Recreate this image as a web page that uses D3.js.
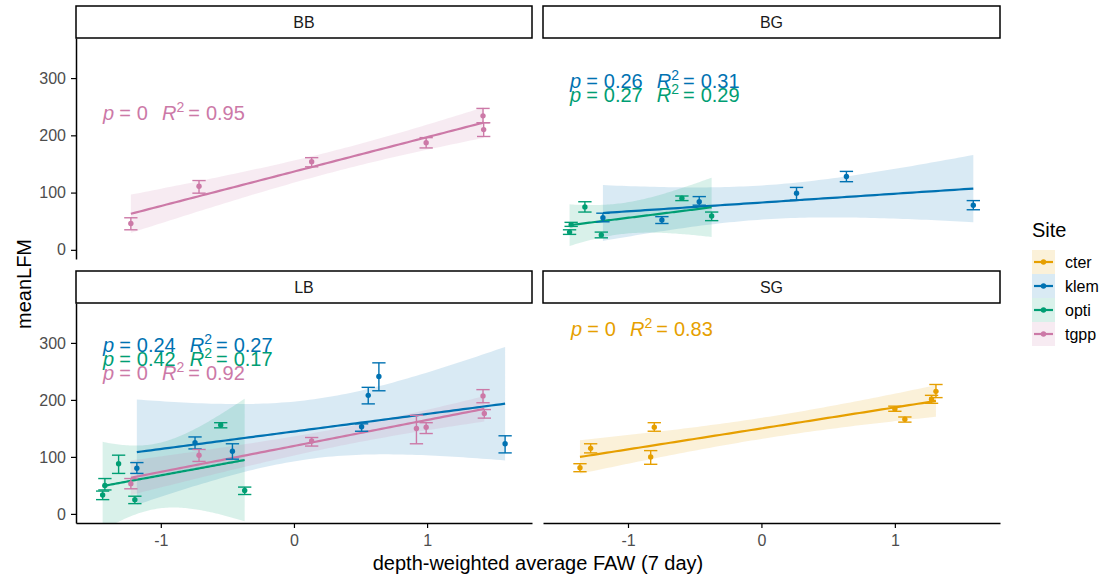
<!DOCTYPE html>
<html>
<head>
<meta charset="utf-8">
<script src="https://cdn.jsdelivr.net/npm/d3@7"></script>
<style>
  body { margin: 0; background: #fff; }
  text { font-family: "Liberation Sans", Arial, sans-serif; }
</style>
</head>
<body>
<div id="chart"></div>
<script>
// sites and their colours (legend order)
const sites = ["cter", "klem", "opti", "tgpp"];
const siteColors = ["#E69F00", "#0072B2", "#009E73", "#CC79A7"];

// rows: [FAW, meanLFM, lower, upper]
const bb_tgpp = [[-1.225, 46, 35, 56], [-0.713, 111, 99, 121], [0.133, 154, 145, 161],
  [0.993, 187, 178, 196], [1.42, 234, 222, 247], [1.425, 210, 198, 222]];

const bg_klem = [[-1.188, 56, 49, 64], [-0.746, 52, 46, 58], [-0.466, 84, 78, 93],
  [0.263, 99, 87, 109], [0.637, 128, 119, 137], [1.588, 78, 70, 86]];
const bg_opti = [[-1.438, 31, 27, 35], [-1.426, 44, 41, 48], [-1.323, 75, 66, 84],
  [-1.2, 26, 21, 31], [-0.596, 90, 86, 94], [-0.373, 59, 51, 66]];

const lb_klem = [[-1.18, 80, 71, 90], [-0.743, 125, 114, 135], [-0.462, 110, 96, 123],
  [0.508, 153, 145, 158], [0.558, 208, 193, 222], [0.638, 241, 216, 265], [1.586, 123, 107, 137]];
const lb_opti = [[-1.437, 33, 25, 40], [-1.42, 50, 42, 62], [-1.317, 88, 71, 103],
  [-1.195, 25, 18, 31], [-0.55, 156, 151, 160], [-0.37, 41, 34, 47]];
const lb_tgpp = [[-1.225, 53, 44, 62], [-0.713, 103, 92, 113], [0.133, 128, 119, 134],
  [0.92, 150, 123, 173], [0.993, 152, 141, 160], [1.42, 207, 195, 218], [1.43, 176, 168, 183]];

const sg_cter = [[-1.36, 81, 74, 88], [-1.28, 115, 107, 123], [-0.83, 100, 87, 111],
  [-0.803, 152, 145, 160], [1.0, 184, 180, 189], [1.075, 166, 161, 170],
  [1.275, 201, 194, 208], [1.308, 215, 204, 227]];

// printed p and R2 per site
const bbStats = [["tgpp", "0", "0.95"]];
const bgStats = [["klem", "0.26", "0.31"], ["opti", "0.27", "0.29"]];
const lbStats = [["klem", "0.24", "0.27"], ["opti", "0.42", "0.17"], ["tgpp", "0", "0.92"]];
const sgStats = [["cter", "0", "0.83"]];

const xTicks = [-1, 0, 1];
const yTicks = [0, 100, 200, 300];

const xDomain = [-1.637, 1.788];
const yDomain = [-16, 370];

// 97.5% t quantiles by df
const tCrit = { 3: 3.182, 4: 2.776, 5: 2.571, 6: 2.447, 7: 2.365 };

const width = 1106;
const height = 584;

const color = d3.scaleOrdinal().domain(sites).range(siteColors);

const layout = [
  { name: "BB", x0: 76, x1: 532, top: 6, y1: 259, series: [["tgpp", bb_tgpp]], stats: bbStats,
    lx: 103, ly: 120, yAxis: true, xAxis: false },
  { name: "BG", x0: 543, x1: 1000, top: 6, y1: 259, series: [["klem", bg_klem], ["opti", bg_opti]], stats: bgStats,
    lx: 570, ly: 88, yAxis: false, xAxis: false },
  { name: "LB", x0: 76, x1: 532, top: 271, y1: 523,
    series: [["klem", lb_klem], ["opti", lb_opti], ["tgpp", lb_tgpp]], stats: lbStats,
    lx: 103, ly: 352, yAxis: true, xAxis: true },
  { name: "SG", x0: 543, x1: 1000, top: 271, y1: 523, series: [["cter", sg_cter]], stats: sgStats,
    lx: 571, ly: 336, yAxis: false, xAxis: true },
];

const lmBand = (pts) => {
  const n = pts.length;
  const mx = d3.mean(pts, (d) => d[0]);
  const my = d3.mean(pts, (d) => d[1]);
  const sxx = d3.sum(pts, (d) => (d[0] - mx) ** 2);
  const sxy = d3.sum(pts, (d) => (d[0] - mx) * (d[1] - my));
  const b = sxy / sxx;
  const a = my - b * mx;
  const sse = d3.sum(pts, (d) => (d[1] - a - b * d[0]) ** 2);
  const s = Math.sqrt(sse / (n - 2));
  const t = tCrit[n - 2];
  const ext = d3.extent(pts, (d) => d[0]);
  return d3.range(80).map((i) => {
    const x = ext[0] + ((ext[1] - ext[0]) * i) / 79;
    const fit = a + b * x;
    const se = s * Math.sqrt(1 / n + (x - mx) ** 2 / sxx);
    return { x: x, y: fit, lo: fit - t * se, hi: fit + t * se };
  });
};

// plotmath-like "p = .. R^2 = .." with its wide gaps
const eqLabel = (txt, pv, r2) => {
  txt.append("tspan").attr("font-style", "italic").text("p");
  txt.append("tspan").attr("dx", 5).text("=");
  txt.append("tspan").attr("dx", 6).text(pv);
  txt.append("tspan").attr("dx", 14).attr("font-style", "italic").text("R");
  txt.append("tspan").attr("font-size", 14).attr("dy", -8).text("2");
  txt.append("tspan").attr("dx", 4).attr("dy", 8).text("=");
  txt.append("tspan").attr("dx", 6).text(r2);
};

const svg = d3.select("#chart").append("svg").attr("width", width).attr("height", height);
svg.append("rect").attr("width", width).attr("height", height).attr("fill", "#fff");

layout.forEach((p, pi) => {
  const y0 = p.top + 32;
  const x = d3.scaleLinear().domain(xDomain).range([p.x0, p.x1]);
  const y = d3.scaleLinear().domain(yDomain).range([p.y1, y0]);
  const g = svg.append("g").attr("class", "panel");

  // strip
  g.append("rect")
    .attr("x", p.x0).attr("y", p.top)
    .attr("width", p.x1 - p.x0).attr("height", 32)
    .attr("fill", "#fff").attr("stroke", "#000").attr("stroke-width", 1.5);
  g.append("text")
    .attr("x", (p.x0 + p.x1) / 2).attr("y", p.top + 22)
    .attr("text-anchor", "middle").attr("font-size", 16).attr("fill", "#1a1a1a")
    .text(p.name);

  svg.append("clipPath").attr("id", "clip" + pi)
    .append("rect").attr("x", p.x0).attr("y", y0)
    .attr("width", p.x1 - p.x0).attr("height", p.y1 - y0);

  const plot = g.append("g").attr("clip-path", "url(#clip" + pi + ")");

  const bands = p.series.map(([site, pts]) => ({ site: site, pts: pts, band: lmBand(pts) }));

  plot.selectAll("path.ribbon").data(bands).enter()
    .append("path").attr("class", "ribbon")
    .attr("d", (d) => d3.area().x((v) => x(v.x)).y0((v) => y(v.lo)).y1((v) => y(v.hi))(d.band))
    .attr("fill", (d) => color(d.site)).attr("fill-opacity", 0.15);

  plot.selectAll("path.fit").data(bands).enter()
    .append("path").attr("class", "fit")
    .attr("d", (d) => d3.line().x((v) => x(v.x)).y((v) => y(v.y))(d.band))
    .attr("fill", "none").attr("stroke", (d) => color(d.site)).attr("stroke-width", 2.2);

  bands.forEach((s) => {
    const col = color(s.site);
    const eb = plot.append("g").attr("stroke", col).attr("stroke-width", 1.4);
    const cap = (x(0.05) - x(0));
    eb.selectAll("line.v").data(s.pts).enter().append("line")
      .attr("x1", (d) => x(d[0])).attr("x2", (d) => x(d[0]))
      .attr("y1", (d) => y(d[2])).attr("y2", (d) => y(d[3]));
    eb.selectAll("line.lo").data(s.pts).enter().append("line")
      .attr("x1", (d) => x(d[0]) - cap).attr("x2", (d) => x(d[0]) + cap)
      .attr("y1", (d) => y(d[2])).attr("y2", (d) => y(d[2]));
    eb.selectAll("line.hi").data(s.pts).enter().append("line")
      .attr("x1", (d) => x(d[0]) - cap).attr("x2", (d) => x(d[0]) + cap)
      .attr("y1", (d) => y(d[3])).attr("y2", (d) => y(d[3]));
    plot.append("g").selectAll("circle").data(s.pts).enter().append("circle")
      .attr("cx", (d) => x(d[0])).attr("cy", (d) => y(d[1]))
      .attr("r", 2.7).attr("fill", col);
  });

  // axes
  if (p.yAxis) {
    const ay = g.append("g").attr("transform", "translate(" + p.x0 + ",0)")
      .call(d3.axisLeft(y).tickValues(yTicks).tickSize(5).tickPadding(5).tickSizeOuter(0));
    ay.select(".domain").attr("stroke-width", 1.5);
    ay.selectAll(".tick line").attr("stroke-width", 1.2);
    ay.selectAll("text").attr("font-size", 16).attr("fill", "#4d4d4d")
      .attr("font-family", "Liberation Sans, Arial, sans-serif");
  }
  if (p.xAxis) {
    const ax = g.append("g").attr("transform", "translate(0," + p.y1 + ")")
      .call(d3.axisBottom(x).tickValues(xTicks).tickSize(5).tickPadding(7).tickSizeOuter(0)
        .tickFormat((d) => String(d)));
    ax.select(".domain").attr("stroke-width", 1.5);
    ax.selectAll(".tick line").attr("stroke-width", 1.2);
    ax.selectAll("text").attr("font-size", 16).attr("fill", "#4d4d4d")
      .attr("font-family", "Liberation Sans, Arial, sans-serif");
  }

  // p / R2 labels
  p.stats.forEach((st, i) => {
    const t = g.append("text")
      .attr("x", p.lx).attr("y", p.ly + i * 14)
      .attr("font-size", 20).attr("fill", color(st[0]));
    eqLabel(t, st[1], st[2]);
  });
});

// axis titles
svg.append("text")
  .attr("x", 538).attr("y", 570)
  .attr("text-anchor", "middle").attr("font-size", 20).attr("fill", "#000")
  .text("depth-weighted average FAW (7 day)");
svg.append("text")
  .attr("transform", "translate(31,284) rotate(-90)")
  .attr("text-anchor", "middle").attr("font-size", 20).attr("fill", "#000")
  .text("meanLFM");

// legend
const legend = svg.append("g").attr("transform", "translate(1032,0)");
legend.append("text").attr("x", 0).attr("y", 237).attr("font-size", 20).text("Site");
const keys = legend.selectAll("g.key").data(sites).enter().append("g")
  .attr("class", "key")
  .attr("transform", (d, i) => "translate(0," + (250 + i * 24) + ")");
keys.append("rect").attr("width", 23).attr("height", 24)
  .attr("fill", (d) => color(d)).attr("fill-opacity", 0.15);
keys.append("line").attr("x1", 2).attr("x2", 21).attr("y1", 12).attr("y2", 12)
  .attr("stroke", (d) => color(d)).attr("stroke-width", 2.2);
keys.append("circle").attr("cx", 11.5).attr("cy", 12).attr("r", 2.7).attr("fill", (d) => color(d));
keys.append("text").attr("x", 33).attr("y", 17.5).attr("font-size", 16).attr("fill", "#000")
  .text((d) => d);
</script>
</body>
</html>
